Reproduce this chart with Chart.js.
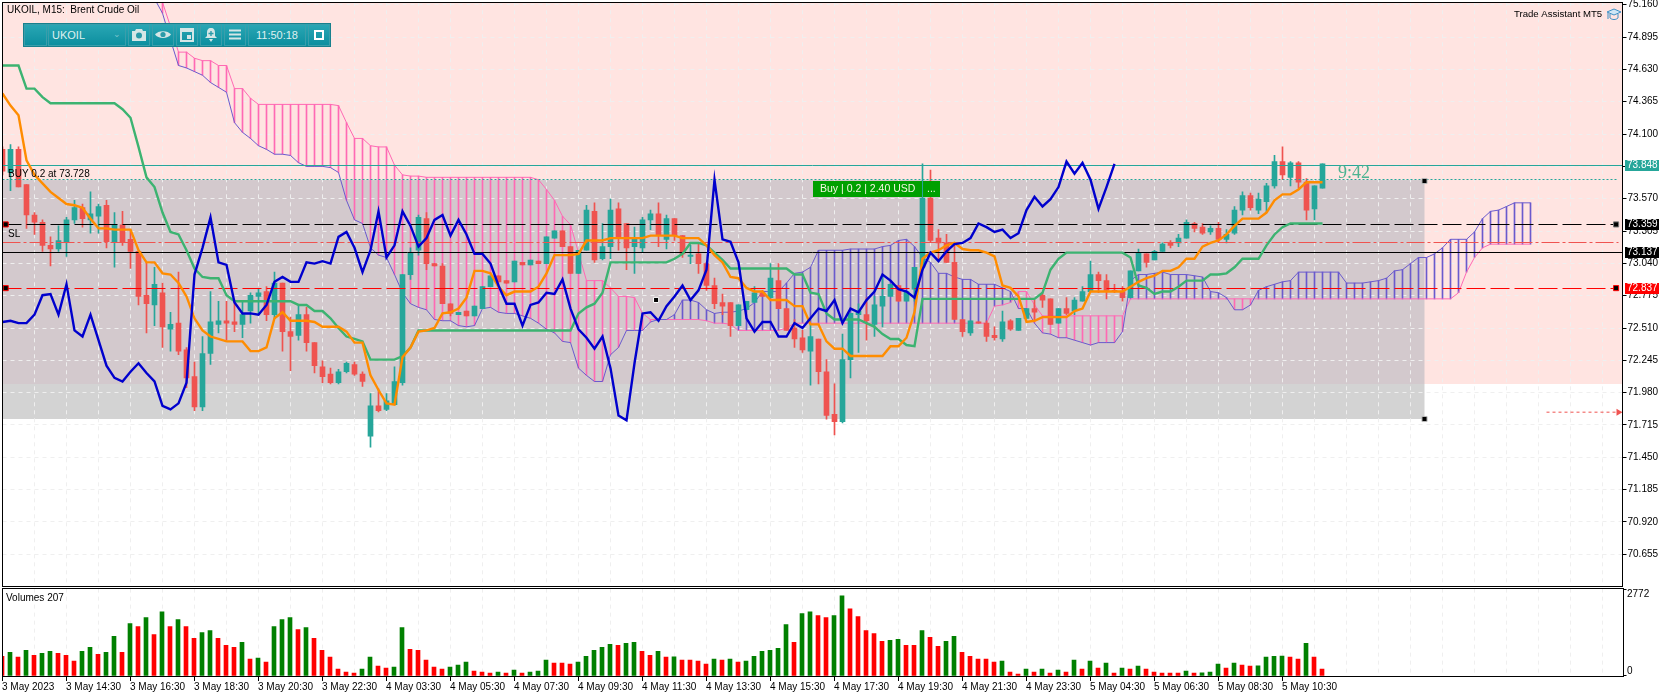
<!DOCTYPE html>
<html>
<head>
<meta charset="utf-8">
<title>UKOIL M15</title>
<script src="https://cdn.jsdelivr.net/npm/chart.js@4"></script>
<style>
html, body { margin: 0; padding: 0; background: #fff; }
#wrap { position: relative; width: 1670px; height: 698px; overflow: hidden; }
canvas { position: absolute; left: 0; }
#chartMain { top: 0; }
#chartVol { top: 587px; }
#toolbar { position: absolute; left: 23px; top: 23px; width: 308px; height: 24px; box-sizing: border-box;
  background: linear-gradient(#2aa7b5, #0c8e9e); border: 1px solid #17808d; }
#toolbar div { position: absolute; top: 0; height: 22px; box-sizing: border-box; border: 1px solid #3a9eab;
  color: #dff0f0; font: 11px "Liberation Sans", sans-serif; line-height: 20px; text-align: center; }
#toolbar svg { display: block; margin: 2px auto 0; }
#cap { position: absolute; left: 1606px; top: 8px; }
</style>
</head>
<body>
<div id="wrap">
  <canvas id="chartMain" width="1670" height="587"></canvas>
  <canvas id="chartVol" width="1670" height="111"></canvas>
  <div id="toolbar">
    <div style="left:0;width:23px"></div>
    <div style="left:24px;width:78px;text-align:left;padding-left:3px">UKOIL<span style="position:absolute;right:4px;top:-1px;font-size:9px;color:#7fc4cc">&#8964;</span></div>
    <div style="left:104px;width:22px"><svg width="16" height="15" viewBox="0 0 16 15"><path d="M1 4h3l1-2h6l1 2h3v10H1z" fill="#d5e6e6"/><circle cx="8" cy="8.5" r="3" fill="#2a9aa8"/></svg></div>
    <div style="left:128px;width:22px"><svg width="16" height="15" viewBox="0 0 16 15"><path d="M0 7.5C3 3 13 3 16 7.5 13 12 3 12 0 7.5z" fill="#d5e6e6"/><circle cx="8" cy="7.5" r="2.6" fill="#2a9aa8"/></svg></div>
    <div style="left:152px;width:22px"><svg width="14" height="15" viewBox="0 0 14 15"><path d="M1 2h12v12H1z" fill="none" stroke="#d5e6e6" stroke-width="2"/><path d="M1 2h12v3H1zM7 8h4v4H7z" fill="#d5e6e6"/></svg></div>
    <div style="left:176px;width:22px"><svg width="14" height="16" viewBox="0 0 14 16"><path d="M7 1c3 0 4 2 4 5v3l2 2H1l2-2V6c0-3 1-5 4-5zM5 12h4l-2 3z" fill="#d5e6e6"/><path d="M7 4v5M4.5 6.5h5" stroke="#2a9aa8" stroke-width="1.4"/></svg></div>
    <div style="left:200px;width:22px"><svg width="14" height="15" viewBox="0 0 14 15"><path d="M1 3.5h12M1 7.5h12M1 11.5h12" stroke="#d5e6e6" stroke-width="2"/></svg></div>
    <div style="left:224px;width:58px">11:50:18</div>
    <div style="left:284px;width:22px"><svg width="12" height="15" viewBox="0 0 12 15"><path d="M2 4h8v8H2z" fill="none" stroke="#fff" stroke-width="2"/></svg></div>
  </div>
  <svg id="cap" width="16" height="14" viewBox="0 0 16 14"><path d="M8 1L15 4 8 7 1 4z" fill="#cfe6f5" stroke="#3c8fc4"/><path d="M4 6v4c2 2 6 2 8 0V6" fill="none" stroke="#3c8fc4"/><path d="M2 5v6" stroke="#3c8fc4"/></svg>
</div>
<script>
/* ---------- data ---------- */
const opens = [
  73.97,73.78,73.97,73.68,73.43,73.37,73.18,73.15,73.21,73.39,
  73.49,73.39,73.42,73.51,73.21,73.35,73.23,73.13,72.77,72.69,
  72.79,72.49,72.54,72.32,72.10,71.85,72.29,72.53,72.56,72.55,
  72.53,72.64,72.76,72.80,72.61,72.87,72.47,72.44,72.61,72.38,
  72.18,72.12,72.05,72.14,72.20,72.12,71.61,71.86,71.83,71.87,
  72.05,72.94,73.14,73.40,73.03,73.01,72.70,72.61,72.64,72.60,
  72.66,72.84,72.93,72.89,72.88,73.04,73.02,73.05,73.03,73.24,
  73.30,73.17,72.95,73.14,73.46,73.07,73.17,73.48,73.36,73.17,
  73.16,73.39,73.44,73.23,73.40,73.26,73.09,73.11,73.03,72.85,
  72.71,72.71,72.52,72.65,72.71,72.79,72.75,72.89,72.66,72.50,
  72.42,72.31,72.41,72.14,71.79,71.73,72.24,72.61,72.61,72.53,
  72.68,72.76,72.85,72.72,72.82,73.00,73.57,73.24,73.20,73.04,
  72.57,72.46,72.55,72.54,72.44,72.41,72.56,72.48,72.58,72.66,
  72.77,72.74,72.54,72.66,72.64,72.72,72.80,72.94,72.89,72.81,
  72.80,72.75,72.97,73.11,73.06,73.13,73.20,73.20,73.24,73.36,
  73.33,73.29,73.32,73.23,73.28,73.47,73.59,73.47,73.54,73.67,
  73.87,73.74,73.86,73.70,73.48,73.65
];
const closes = [
  73.79,73.97,73.66,73.43,73.37,73.18,73.15,73.22,73.39,73.49,
  73.40,73.44,73.50,73.21,73.35,73.21,73.13,72.76,72.70,72.86,
  72.51,72.53,72.31,72.09,71.85,72.29,72.55,72.56,72.54,72.53,
  72.61,72.77,72.79,72.61,72.87,72.47,72.43,72.61,72.38,72.19,
  72.10,72.05,72.14,72.21,72.12,72.06,71.86,71.82,71.90,72.06,
  72.94,73.12,73.41,73.03,73.01,72.70,72.62,72.63,72.60,72.68,
  72.84,72.93,72.88,72.87,73.05,73.02,73.06,73.03,73.25,73.30,
  73.17,72.95,73.14,73.47,73.06,73.17,73.47,73.24,73.16,73.24,
  73.39,73.44,73.26,73.40,73.26,73.11,73.10,73.03,72.85,72.70,
  72.68,72.52,72.69,72.72,72.79,72.76,72.91,72.66,72.48,72.41,
  72.32,72.43,72.14,71.78,71.73,72.24,72.62,72.64,72.56,72.69,
  72.76,72.86,72.72,72.80,73.00,73.57,73.22,73.20,73.04,72.57,
  72.47,72.56,72.54,72.43,72.42,72.55,72.49,72.58,72.66,72.63,
  72.73,72.53,72.66,72.62,72.73,72.80,72.94,72.89,72.81,72.80,
  72.75,72.97,73.12,73.04,73.13,73.19,73.18,73.24,73.37,73.32,
  73.28,73.32,73.23,73.27,73.47,73.59,73.49,73.56,73.67,73.87,
  73.76,73.86,73.70,73.47,73.67,73.85
];
const highs = [
  73.99,74.01,73.99,73.68,73.45,73.39,73.25,73.34,73.41,73.55,
  73.52,73.62,73.52,73.55,73.45,73.46,73.31,73.13,73.04,73.00,
  72.87,72.63,72.96,72.34,72.22,72.43,72.80,72.72,72.72,72.73,
  72.72,72.79,72.82,72.84,72.96,72.87,72.59,72.68,72.67,72.38,
  72.23,72.17,72.16,72.22,72.22,72.14,71.96,72.00,71.96,72.18,
  72.94,73.16,73.43,73.45,73.03,73.03,72.70,72.63,72.64,72.68,
  72.84,72.93,72.93,72.89,73.05,73.04,73.06,73.05,73.25,73.30,
  73.30,73.17,73.14,73.51,73.53,73.36,73.56,73.53,73.36,73.33,
  73.41,73.47,73.53,73.43,73.40,73.26,73.18,73.20,73.04,72.91,
  72.78,72.71,72.69,72.72,72.84,72.81,73.03,73.03,72.66,72.57,
  72.48,72.54,72.41,72.24,72.04,72.45,72.62,72.70,72.75,72.76,
  72.94,72.86,72.85,72.80,73.00,73.85,73.80,73.31,73.27,73.20,
  72.57,72.56,72.55,72.56,72.51,72.64,72.57,72.58,72.66,72.73,
  72.79,72.74,72.66,72.75,72.75,72.84,73.05,72.96,72.94,72.86,
  72.84,72.97,73.15,73.11,73.14,73.20,73.22,73.27,73.39,73.37,
  73.36,73.34,73.37,73.31,73.50,73.62,73.61,73.61,73.69,73.92,
  73.99,73.87,73.87,73.73,73.67,73.85
];
const lows = [
  73.76,73.63,73.66,73.32,73.27,73.13,73.01,73.13,73.09,73.36,
  73.33,73.28,73.28,73.16,73.00,73.18,72.99,72.69,72.46,72.52,
  72.34,72.31,72.28,72.01,71.82,71.82,72.20,72.46,72.40,72.47,
  72.42,72.54,72.61,72.56,72.58,72.31,72.15,72.40,72.31,72.13,
  72.05,72.04,72.04,72.13,72.11,72.02,71.52,71.81,71.82,71.87,
  72.03,72.90,73.10,72.98,73.01,72.70,72.60,72.61,72.60,72.60,
  72.66,72.84,72.88,72.87,72.88,73.02,73.02,73.03,73.03,73.24,
  73.17,72.95,72.95,73.14,73.04,73.06,73.07,73.14,72.98,72.95,
  73.12,73.31,73.17,73.15,73.22,73.08,73.03,72.95,72.81,72.66,
  72.61,72.43,72.52,72.65,72.71,72.76,72.75,72.66,72.48,72.34,
  72.30,72.03,72.04,71.75,71.62,71.72,72.09,72.30,72.40,72.43,
  72.51,72.76,72.72,72.72,72.72,73.00,73.21,73.05,73.04,72.57,
  72.43,72.44,72.54,72.39,72.40,72.39,72.48,72.48,72.58,72.56,
  72.67,72.53,72.54,72.61,72.61,72.72,72.80,72.79,72.74,72.79,
  72.72,72.75,72.97,73.00,73.06,73.13,73.16,73.17,73.24,73.29,
  73.27,73.27,73.21,73.20,73.27,73.43,73.47,73.44,73.45,73.65,
  73.72,73.67,73.65,73.39,73.39,73.65
];
const tenkan = [
  74.43,74.33,74.25,73.88,73.76,73.69,73.62,73.57,73.52,73.51,
  73.49,73.40,73.32,73.32,73.31,73.31,73.31,73.14,73.04,73.04,
  72.95,72.94,72.87,72.76,72.58,72.48,72.43,72.41,72.39,72.39,
  72.39,72.31,72.31,72.34,72.58,72.63,72.56,72.56,72.56,72.55,
  72.51,72.51,72.51,72.47,72.38,72.38,72.11,71.99,71.88,71.87,
  72.26,72.34,72.47,72.48,72.50,72.62,72.63,72.66,72.75,72.97,
  72.97,72.95,72.84,72.77,72.80,72.80,72.80,72.84,72.95,73.10,
  73.10,73.10,73.11,73.22,73.22,73.22,73.24,73.24,73.24,73.24,
  73.24,73.26,73.26,73.26,73.26,73.24,73.24,73.24,73.18,73.10,
  73.04,72.92,72.91,72.83,72.80,72.80,72.73,72.73,72.73,72.68,
  72.68,72.53,72.53,72.39,72.33,72.33,72.27,72.27,72.27,72.27,
  72.27,72.35,72.35,72.42,72.63,73.07,73.12,73.14,73.18,73.20,
  73.15,73.14,73.14,73.12,73.09,72.85,72.83,72.76,72.55,72.56,
  72.59,72.59,72.59,72.59,72.64,72.66,72.80,72.80,72.80,72.80,
  72.80,72.84,72.88,72.91,72.93,72.97,72.97,73.00,73.07,73.07,
  73.17,73.20,73.22,73.27,73.34,73.40,73.40,73.40,73.45,73.55,
  73.60,73.60,73.64,73.70,73.70,73.70
];
const kijun = [
  74.66,74.66,74.66,74.47,74.47,74.40,74.35,74.35,74.35,74.35,
  74.35,74.35,74.35,74.35,74.35,74.30,74.23,73.99,73.74,73.66,
  73.45,73.29,73.27,73.14,72.99,72.92,72.91,72.91,72.77,72.72,
  72.72,72.72,72.72,72.72,72.72,72.72,72.72,72.69,72.69,72.64,
  72.64,72.58,72.50,72.43,72.41,72.39,72.24,72.24,72.24,72.24,
  72.27,72.34,72.48,72.48,72.48,72.48,72.48,72.48,72.48,72.48,
  72.48,72.48,72.48,72.48,72.48,72.48,72.48,72.48,72.48,72.48,
  72.48,72.48,72.62,72.67,72.70,72.79,73.04,73.04,73.04,73.04,
  73.04,73.04,73.04,73.04,73.07,73.11,73.20,73.20,73.18,73.12,
  73.06,72.99,72.99,72.99,72.99,72.99,72.99,72.99,72.99,72.94,
  72.94,72.79,72.78,72.62,72.57,72.57,72.57,72.57,72.54,72.51,
  72.45,72.41,72.41,72.36,72.35,72.74,72.74,72.74,72.74,72.74,
  72.74,72.74,72.74,72.74,72.74,72.74,72.74,72.74,72.74,72.74,
  72.79,72.98,73.07,73.12,73.12,73.12,73.12,73.12,73.12,73.12,
  73.12,73.08,72.85,72.83,72.78,72.80,72.80,72.84,72.89,72.89,
  72.89,72.94,72.94,72.95,73.00,73.07,73.07,73.07,73.18,73.27,
  73.33,73.36,73.36,73.36,73.36,73.36
];
const chikou = [
  72.55,72.56,72.54,72.54,72.61,72.77,72.78,72.61,72.86,72.48,
  72.43,72.61,72.40,72.19,72.09,72.06,72.14,72.21,72.13,72.06,
  71.86,71.83,71.88,72.05,72.94,73.16,73.41,73.04,73.02,72.71,
  72.62,72.62,72.61,72.69,72.88,72.92,72.88,72.88,73.04,73.03,
  73.05,73.03,73.25,73.29,73.16,72.96,73.14,73.46,73.08,73.18,
  73.46,73.34,73.17,73.24,73.39,73.43,73.26,73.39,73.27,73.11,
  73.11,73.03,72.85,72.70,72.70,72.52,72.69,72.71,72.79,72.78,
  72.90,72.66,72.49,72.42,72.33,72.43,72.17,71.78,71.74,72.21,
  72.62,72.63,72.56,72.68,72.76,72.85,72.73,72.81,72.98,73.72,
  73.23,73.21,73.04,72.58,72.47,72.55,72.55,72.43,72.43,72.54,
  72.50,72.58,72.66,72.64,72.73,72.54,72.66,72.63,72.73,72.80,
  72.94,72.89,72.82,72.80,72.75,72.98,73.12,73.05,73.13,73.19,
  73.20,73.24,73.36,73.33,73.29,73.31,73.24,73.28,73.47,73.58,
  73.50,73.56,73.66,73.87,73.77,73.86,73.72,73.48,73.66,73.85
];
// cloud lines start at bar 19 and run 26 bars past the last candle
const spanStart = 19;
const spanA = [
  75.21,
  75.09,74.87,74.66,74.64,74.61,74.58,74.52,74.48,74.44,74.19,
  74.11,74.06,74.00,73.97,73.93,73.93,73.92,73.86,73.83,73.83,
  73.83,73.82,73.78,73.55,73.39,73.36,73.16,73.10,73.08,72.94,
  72.79,72.70,72.67,72.65,72.57,72.56,72.56,72.52,72.51,72.52,
  72.66,72.67,72.63,72.62,72.62,72.60,72.58,72.54,72.49,72.46,
  72.39,72.38,72.17,72.11,72.06,72.06,72.28,72.34,72.48,72.48,
  72.48,72.55,72.57,72.57,72.61,72.73,72.73,72.71,72.65,72.62,
  72.63,72.63,72.64,72.66,72.71,72.80,72.80,72.80,72.87,72.95,
  72.96,73.00,73.14,73.14,73.14,73.14,73.15,73.15,73.15,73.15,
  73.17,73.18,73.22,73.23,73.17,73.08,73.04,72.95,72.95,72.92,
  72.90,72.90,72.86,72.86,72.86,72.83,72.80,72.66,72.66,72.54,
  72.46,72.45,72.42,72.42,72.40,72.38,72.36,72.38,72.38,72.38,
  72.47,72.89,72.94,72.94,72.95,72.96,72.94,72.94,72.94,72.93,
  72.92,72.80,72.79,72.75,72.65,72.65,72.69,72.81,72.84,72.86,
  72.88,72.89,72.96,72.96,72.96,72.96,72.96,72.96,72.87,72.87,
  72.87,72.88,72.89,72.91,72.97,72.98,73.03,73.08,73.08,73.11,
  73.16,73.23,73.23,73.23,73.29,73.40,73.46,73.47,73.50,73.53,
  73.53,73.53
];
const spanB = [
  75.40,
  75.18,74.98,74.77,74.77,74.72,74.70,74.70,74.66,74.66,74.47,
  74.47,74.39,74.34,74.34,74.34,74.34,74.34,74.34,74.34,74.34,
  74.34,74.34,74.33,74.19,74.06,74.06,74.00,73.99,73.99,73.84,
  73.76,73.75,73.75,73.74,73.74,73.74,73.74,73.74,73.74,73.74,
  73.74,73.74,73.74,73.74,73.74,73.74,73.74,73.72,73.64,73.55,
  73.42,73.35,73.12,72.89,72.89,72.89,72.83,72.76,72.76,72.75,
  72.62,72.57,72.57,72.57,72.57,72.57,72.57,72.57,72.56,72.54,
  72.54,72.53,72.48,72.48,72.48,72.48,72.48,72.48,72.50,72.54,
  72.54,72.54,72.54,72.54,72.54,72.54,72.54,72.54,72.54,72.54,
  72.54,72.54,72.54,72.54,72.54,72.54,72.54,72.54,72.54,72.54,
  72.54,72.54,72.54,72.54,72.68,72.69,72.71,72.80,72.80,72.69,
  72.60,72.60,72.60,72.60,72.60,72.60,72.60,72.60,72.60,72.60,
  72.60,72.74,72.74,72.74,72.74,72.74,72.74,72.74,72.74,72.74,
  72.74,72.74,72.74,72.74,72.74,72.74,72.74,72.74,72.74,72.74,
  72.74,72.74,72.74,72.74,72.74,72.74,72.74,72.74,72.74,72.74,
  72.74,72.74,72.74,72.74,72.74,72.74,72.74,72.74,72.74,72.74,
  72.74,72.74,72.79,72.96,73.08,73.16,73.19,73.19,73.19,73.19,
  73.19,73.19
];
const volumes = [
  632,759,601,822,664,727,790,727,664,474,
  790,917,696,759,1265,759,1676,1581,1866,1328,
  2055,1581,1802,1581,1202,1391,1455,1202,980,917,
  1075,538,569,443,1581,1802,1866,1486,1549,1202,
  822,601,221,126,95,221,601,316,253,285,
  1549,854,822,506,285,221,285,348,443,158,
  126,95,126,95,190,95,126,158,506,411,
  411,379,443,632,822,917,1012,980,1043,1075,
  790,664,790,601,610,506,506,474,379,538,
  506,538,443,474,632,790,822,885,1644,1075,
  1992,2055,1929,1866,1929,2561,2150,1897,1455,1360,
  1107,1138,1170,980,980,1455,1233,949,1107,1265,
  759,632,538,538,443,474,126,63,221,126,
  221,95,190,126,506,221,474,253,411,95,
  253,221,316,221,126,95,95,95,158,95,
  102,126,379,253,411,348,316,325,601,632,
  640,601,538,1043,601,221
];
const priceTicks = [75.160,74.895,74.630,74.365,74.100,73.835,73.570,73.305,73.040,72.775,72.510,72.245,71.980,71.715,71.450,71.185,70.920,70.655];
const volumeTicks = [2772, 0];
const timeLabels = ["3 May 2023","3 May 14:30","3 May 16:30","3 May 18:30","3 May 20:30","3 May 22:30","4 May 03:30","4 May 05:30","4 May 07:30","4 May 09:30","4 May 11:30","4 May 13:30","4 May 15:30","4 May 17:30","4 May 19:30","4 May 21:30","4 May 23:30","5 May 04:30","5 May 06:30","5 May 08:30","5 May 10:30"];
const barsPerLabel = 8;
const gridBars = [0,4,8,12,16,20,24,28,32,36,40,44,48,52,56,60,64,68,72,76,80,84,88,92,96,100,104,108,112,116,120,124,128,132,136,140,144,148,152,156,160,164,168,172,176,180,184,188,192,196,200];

const bidPrice = 73.848, entryPrice = 73.728, tpPrice = 73.359, slPrice = 73.211, stopPrice = 72.837, midPrice = 73.137;
const pinkZoneLow = 72.051;
const grayZone = { right: 177.75, top: 73.723, bottom: 71.764 };
const markers = [[0.4,73.359],[0.4,72.837],[177.75,73.715],[177.75,71.764],[201.7,73.359],[201.7,72.837],[81.7,72.74]];
const arrowLine = [[193,71.82],[202,71.82]];

/* ---------- colours ---------- */
const UP = "#26a69a", DOWN = "#ef5350", SLATE = "#6a5acd", PINK = "#ff69b4";
const FONT = '10px "Liberation Sans", sans-serif';
const GRID = "#efefef";

// series above were read against a slightly tighter price grid, this puts them on the axis
function onAxis(p) { return p + (75.16 - p) * 0.0037; }
function points(arr, start) { return arr.map((v, i) => ({ x: start + i, y: onAxis(v) })); }
function linePx(ctx, x1, x2, y, color, dash) {
    const py = Math.round(y) + 0.5;
    ctx.save();
    ctx.strokeStyle = color; ctx.lineWidth = 1; ctx.setLineDash(dash);
    ctx.beginPath(); ctx.moveTo(x1, py); ctx.lineTo(x2, py); ctx.stroke();
    ctx.restore();
}
function frame(chart) {
    const a = chart.chartArea, ctx = chart.ctx;
    ctx.save();
    ctx.strokeStyle = "#000"; ctx.lineWidth = 1;
    ctx.strokeRect(Math.floor(a.left) + 0.5, Math.floor(a.top) + 0.5, Math.round(a.right - a.left), Math.round(a.bottom - a.top));
    ctx.restore();
}
function noPadding(s) { s.paddingLeft = s.paddingRight = s.paddingTop = s.paddingBottom = 0; }

/* ---------- plugins: zones, levels, text ---------- */
const zonesPlugin = {
    id: "zones",
    beforeDraw(chart) {
        const a = chart.chartArea, ctx = chart.ctx, x = chart.scales.x, y = chart.scales.y;
        const pinkBottom = y.getPixelForValue(pinkZoneLow);
        const grayRight = x.getPixelForValue(grayZone.right);
        const grayTop = y.getPixelForValue(grayZone.top);
        const grayBottom = y.getPixelForValue(grayZone.bottom);
        ctx.save();
        ctx.fillStyle = "#ffe4e1";
        ctx.fillRect(a.left, a.top, a.right - a.left, pinkBottom - a.top);
        ctx.fillStyle = "#d3c9cd";
        ctx.fillRect(a.left, grayTop, grayRight - a.left, pinkBottom - grayTop);
        ctx.fillStyle = "#d3d3d3";
        ctx.fillRect(a.left, pinkBottom, grayRight - a.left, grayBottom - pinkBottom);
        ctx.restore();
    }
};

const levelsPlugin = {
    id: "levels",
    afterDatasetDraw(chart, args) {
        if (chart.data.datasets[args.index].label !== "Bodies") return;
        const a = chart.chartArea, ctx = chart.ctx, y = chart.scales.y;
        const endX = a.right - 4;
        ctx.save();
        ctx.beginPath(); ctx.rect(a.left, a.top, a.right - a.left, a.bottom - a.top); ctx.clip();
        linePx(ctx, a.left, a.right, y.getPixelForValue(bidPrice), UP, []);
        linePx(ctx, a.left, endX, y.getPixelForValue(entryPrice), UP, [2, 2]);
        linePx(ctx, a.left, endX, y.getPixelForValue(tpPrice), "#000", [19, 5]);
        linePx(ctx, a.left, endX, y.getPixelForValue(slPrice), DOWN, [18, 3, 3, 3]);
        linePx(ctx, a.left, a.right, y.getPixelForValue(midPrice), "#000", []);
        linePx(ctx, a.left, endX, y.getPixelForValue(stopPrice), "#f00", [19, 5]);
        ctx.restore();
    }
};

function axisBox(ctx, y, price, bg) {
    const py = Math.round(y);
    ctx.fillStyle = bg;
    ctx.fillRect(1625, py - 5, 34, 11);
    ctx.fillStyle = "#fff";
    ctx.font = FONT; ctx.textBaseline = "middle"; ctx.textAlign = "left";
    ctx.fillText(price.toFixed(3), 1627, py + 0.5);
}

const textPlugin = {
    id: "overlayText",
    afterDraw(chart) {
        const ctx = chart.ctx, y = chart.scales.y;
        frame(chart);
        ctx.save();
        axisBox(ctx, y.getPixelForValue(bidPrice), bidPrice, UP);
        axisBox(ctx, y.getPixelForValue(tpPrice), tpPrice, "#000");
        axisBox(ctx, y.getPixelForValue(midPrice), midPrice, "#000");
        axisBox(ctx, y.getPixelForValue(stopPrice), stopPrice, "#f00");
        ctx.fillStyle = "#000"; ctx.font = FONT; ctx.textBaseline = "middle"; ctx.textAlign = "left";
        ctx.fillText("UKOIL, M15:  Brent Crude Oil", 7, 10);
        ctx.fillText("BUY 0.2 at 73.728", 8, 174);
        ctx.fillText("SL", 8, 234);
        ctx.font = '9.6px "Liberation Sans", sans-serif';
        ctx.fillText("Trade Assistant MT5", 1514, 14);
        ctx.fillStyle = "#4db391"; ctx.font = '18px "Liberation Serif", serif';
        ctx.fillText("9:42", 1338, 173);
        ctx.fillStyle = "#00a000";
        ctx.fillRect(813, 181, 109, 16);
        ctx.fillRect(923, 181, 17, 16);
        ctx.fillStyle = "#f4f8e0"; ctx.font = '10.5px "Liberation Sans", sans-serif';
        ctx.fillText("Buy | 0.2 | 2.40 USD", 820, 189.5);
        ctx.fillText("...", 927, 189.5);
        ctx.restore();
    }
};

const volTextPlugin = {
    id: "volText",
    afterDraw(chart) {
        const ctx = chart.ctx, y = chart.scales.y;
        frame(chart);
        ctx.save();
        ctx.fillStyle = "#000"; ctx.font = FONT; ctx.textBaseline = "middle"; ctx.textAlign = "left";
        ctx.fillText("Volumes 207", 6, 11);
        ctx.fillText(String(volumeTicks[0]), 1627, y.getPixelForValue(volumeTicks[0]) + 5);
        ctx.fillText(String(volumeTicks[1]), 1627, y.getPixelForValue(volumeTicks[1]) - 5);
        ctx.restore();
    }
};

/* ---------- shared x axis ---------- */
function xAxis(max, showLabels) {
    return {
        type: "linear", min: 0, max: max, offset: false,
        afterBuildTicks(s) { s.ticks = gridBars.map(v => ({ value: v })); },
        afterFit(s) { s.height = showLabels ? 21 : 0; noPadding(s); },
        border: { display: false, dash: [4, 4] },
        grid: {
            offset: false, color: GRID, drawTicks: showLabels, tickLength: 4,
            tickColor: ctx => {
                const v = ctx.tick ? ctx.tick.value : 1;
                return v % barsPerLabel === 0 && v / barsPerLabel < timeLabels.length ? "#000" : "rgba(0,0,0,0)";
            }
        },
        ticks: {
            display: showLabels, autoSkip: false, maxRotation: 0, minRotation: 0, align: "start", padding: 0,
            color: "#000", font: { family: '"Liberation Sans", sans-serif', size: 10 },
            callback: v => (v % barsPerLabel === 0 ? (timeLabels[v / barsPerLabel] || "") : "")
        }
    };
}

/* ---------- main chart ---------- */
new Chart(document.getElementById("chartMain"), {
    type: "bar",
    data: {
        datasets: [
            { label: "Hatch", type: "bar", order: 60, grouped: false, barThickness: 1, borderWidth: 0,
              data: spanA.map((v, i) => ({ x: spanStart + i, y: [onAxis(spanB[i]), onAxis(v)] })),
              backgroundColor: spanA.map((v, i) => (v >= spanB[i] ? SLATE : PINK)) },
            { label: "SpanA", type: "line", order: 50, data: points(spanA, spanStart), borderColor: SLATE, borderWidth: 1, pointRadius: 0, tension: 0 },
            { label: "SpanB", type: "line", order: 51, data: points(spanB, spanStart), borderColor: PINK, borderWidth: 1, pointRadius: 0, tension: 0 },
            { label: "Wicks", type: "bar", order: 40, grouped: false, barThickness: 1, borderWidth: 0,
              data: highs.map((h, i) => ({ x: i, y: [onAxis(lows[i]), onAxis(h)] })),
              backgroundColor: closes.map((c, i) => (c >= opens[i] ? UP : DOWN)) },
            { label: "Bodies", type: "bar", order: 30, grouped: false, barThickness: 5, borderWidth: 0,
              data: opens.map((o, i) => ({ x: i, y: [onAxis(o), onAxis(closes[i])] })),
              backgroundColor: closes.map((c, i) => (c >= opens[i] ? UP : DOWN)) },
            { label: "Kijun", type: "line", order: 20, data: points(kijun, 0), borderColor: "#3cb371", borderWidth: 2.4, pointRadius: 0, tension: 0 },
            { label: "Tenkan", type: "line", order: 15, data: points(tenkan, 0), borderColor: "#ff8c00", borderWidth: 2.4, pointRadius: 0, tension: 0 },
            { label: "Chikou", type: "line", order: 10, data: points(chikou, 0), borderColor: "#0000cd", borderWidth: 2.4, pointRadius: 0, tension: 0 },
            { label: "Markers", type: "line", order: 5, showLine: false, clip: false,
              data: markers.map(m => ({ x: m[0], y: m[1] })),
              pointStyle: "rect", pointRadius: 3.6, pointBackgroundColor: "#000",
              pointBorderColor: ["#f00", "#f00", "#bbb", "#bbb", "#777", "#f00", "#fff"], pointBorderWidth: 1 },
            { label: "Arrow", type: "line", order: 6, data: arrowLine.map(m => ({ x: m[0], y: m[1] })),
              borderColor: DOWN, borderWidth: 1, borderDash: [3, 3],
              pointRadius: [0, 4], pointStyle: "triangle", pointRotation: 90, pointBackgroundColor: DOWN, pointBorderWidth: 0 }
        ]
    },
    options: {
        responsive: false, animation: false, devicePixelRatio: 1,
        layout: { autoPadding: false, padding: { left: 2.5, top: 2.3, right: 0, bottom: 1 } },
        plugins: { legend: { display: false }, tooltip: { enabled: false } },
        scales: {
            x: xAxis(202.5, false),
            y: {
                position: "right", min: 70.395, max: 75.18,
                afterBuildTicks(s) { s.ticks = priceTicks.map(v => ({ value: v })); },
                afterFit(s) { s.width = 47.5; noPadding(s); },
                border: { display: false, dash: [4, 4] },
                grid: { color: GRID, tickColor: "#000", tickLength: 4 },
                ticks: { padding: 1, color: "#000", autoSkip: false, font: { family: '"Liberation Sans", sans-serif', size: 10 },
                         callback: v => v.toFixed(3) }
            }
        }
    },
    plugins: [zonesPlugin, levelsPlugin, textPlugin]
});

/* ---------- volumes chart ---------- */
new Chart(document.getElementById("chartVol"), {
    type: "bar",
    data: {
        datasets: [{
            label: "Volumes", grouped: false, barThickness: 4, borderWidth: 0,
            data: volumes.map((v, i) => ({ x: i, y: v })),
            backgroundColor: volumes.map((v, i) => (i > 0 && v > volumes[i - 1] ? "#008000" : "#ff0000"))
        }]
    },
    options: {
        responsive: false, animation: false, devicePixelRatio: 1,
        layout: { autoPadding: false, padding: { left: 2, top: 1.6, right: 0, bottom: 0 } },
        plugins: { legend: { display: false }, tooltip: { enabled: false } },
        scales: {
            x: xAxis(202.56, true),
            y: {
                position: "right", min: -32, max: 2794,
                afterBuildTicks(s) { s.ticks = volumeTicks.map(v => ({ value: v })); },
                afterFit(s) { s.width = 47.5; noPadding(s); },
                border: { display: false },
                grid: { drawOnChartArea: false, tickColor: "#000", tickLength: 4 },
                ticks: { display: false }
            }
        }
    },
    plugins: [volTextPlugin]
});
</script>
</body>
</html>
